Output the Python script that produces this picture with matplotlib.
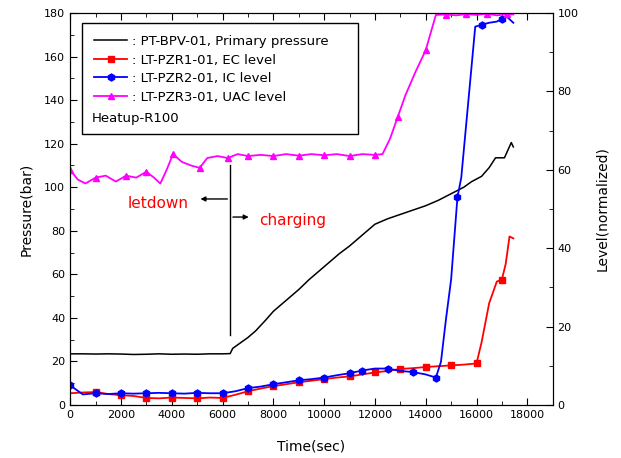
import numpy as np
import matplotlib
matplotlib.use('Agg')
import matplotlib.pyplot as plt
from matplotlib.lines import Line2D
from matplotlib.ticker import MultipleLocator

plt.rcParams['font.family'] = ['DejaVu Sans']

# primary pressure (bar)
t_p = [0, 500, 1000, 1500, 2000, 2500, 3000, 3500, 4000, 4500, 5000, 5500, 6000, 6300,
       6400, 6700, 7000, 7300, 7700, 8000, 8500, 9000, 9400, 9800, 10200, 10600, 11000,
       11500, 12000, 12500, 13000, 13500, 14000, 14500, 15000, 15500, 15800, 16200,
       16500, 16750, 17100, 17370, 17450]
p_pri = [23.5, 23.5, 23.4, 23.5, 23.4, 23.2, 23.3, 23.5, 23.3, 23.4, 23.3, 23.5, 23.5, 23.6,
         26, 28.5, 31, 34, 39, 43, 48, 53, 57.5, 61.5, 65.5, 69.5, 73,
         78, 83, 85.5, 87.5, 89.5, 91.5, 94, 97, 100, 102.5, 105,
         109, 113.5, 113.5, 120.5, 118.5]

# EC level (normalized)
t_ec = [0, 500, 1000, 1500, 2000, 2500, 3000, 3500, 4000, 4500, 5000, 5500, 6000, 6500,
        7000, 7500, 8000, 8500, 9000, 9500, 10000, 10500, 11000, 11500, 12000, 12500,
        13000, 13500, 14000, 14500, 15000, 15500, 16000, 16200, 16500, 16800, 17000,
        17150, 17300, 17450]
lv_ec = [3.0, 3.2, 3.3, 2.8, 2.5, 2.3, 1.8, 1.7, 1.9, 1.8, 1.7, 1.9, 1.8, 2.6,
         3.5, 4.2, 4.8, 5.3, 5.8, 6.2, 6.6, 7.0, 7.3, 7.8, 8.3, 8.7,
         9.2, 9.4, 9.7, 9.9, 10.1, 10.3, 10.6, 16, 26, 31.5, 32,
         36, 43, 42.5]
mk_ec = [1000, 2000, 3000, 4000, 5000, 6000, 7000, 8000, 9000, 10000, 11000, 12000,
         13000, 14000, 15000, 16000, 17000]

# IC level (normalized)
t_ic = [0, 500, 1000, 1500, 2000, 2500, 3000, 3500, 4000, 4500, 5000, 5500, 6000, 6500,
        7000, 7500, 8000, 8500, 9000, 9500, 10000, 10500, 11000, 11500, 12000, 12500,
        13000, 13500, 14000, 14400, 14600, 14800, 15000, 15250, 15400, 15700, 15950,
        16200, 16500, 16800, 17000, 17200, 17450]
lv_ic = [5.0, 2.7, 3.0, 2.8, 3.0, 2.9, 3.0, 3.1, 3.0, 2.9, 3.1, 3.0, 3.0, 3.5,
         4.3, 4.7, 5.3, 5.8, 6.3, 6.6, 7.0, 7.6, 8.1, 8.8, 9.3, 9.3,
         8.7, 8.4, 7.8, 7.0, 11, 22, 32, 53, 58, 79, 96.5,
         97, 97.5, 97.8, 98.5, 99, 97.5]
mk_ic = [0, 1000, 2000, 3000, 4000, 5000, 6000, 7000, 8000, 9000, 10000, 11000, 11500,
         12500, 13500, 14400, 15250, 16200, 17000]

# UAC level (normalized)
t_uac = [0, 300, 600, 1000, 1400, 1800, 2200, 2600, 3000, 3300, 3550, 3800, 4050, 4400,
         4800, 5100, 5400, 5800, 6200, 6600, 7000, 7500, 8000, 8500, 9000, 9500, 10000,
         10500, 11000, 11500, 12000, 12300, 12600, 12900, 13200, 13600, 14000, 14200,
         14400, 14800, 15200, 15600, 16000, 16400, 16800, 17200, 17450]
lv_uac = [60, 57.5, 56.5, 58, 58.5, 57, 58.5, 58, 59.5, 58, 56.5, 60, 64, 62,
          61, 60.5, 63, 63.5, 63, 64, 63.5, 63.8, 63.5, 64, 63.6, 64, 63.7,
          64, 63.5, 64, 63.8, 64, 68, 73.5, 79, 85, 90.5, 95,
          99.5, 99.6, 99.4, 99.7, 99.5, 99.8, 99.4, 99.7, 99.6]
mk_uac = [0, 1000, 2200, 3000, 4050, 5100, 6200, 7000, 8000, 9000, 10000, 11000, 12000,
          12900, 14000, 14800, 15600, 16400, 17200]

fig = plt.figure(figsize=(6.21, 4.58), dpi=100)
ax = fig.add_axes([0.113, 0.1157, 0.777, 0.856])
ax2 = ax.twinx()

ax.plot(t_p, p_pri, color='black', lw=1.1, zorder=3)


def marks(t, keep):
    return [i for i, v in enumerate(t) if v in keep]


ax2.plot(t_ec, lv_ec, color='#ff0000', lw=1.3, marker='s', ms=4.5,
         markevery=marks(t_ec, mk_ec))
ax2.plot(t_ic, lv_ic, color='#0000ff', lw=1.3, marker='h', ms=5,
         markevery=marks(t_ic, mk_ic))
ax2.plot(t_uac, lv_uac, color='#ff00ff', lw=1.3, marker='^', ms=5,
         markevery=marks(t_uac, mk_uac))

ax.set_xlim(0, 19000)
ax.set_ylim(0, 180)
ax2.set_ylim(0, 100)

ax.xaxis.set_major_locator(MultipleLocator(2000))
ax.xaxis.set_minor_locator(MultipleLocator(1000))
ax.yaxis.set_major_locator(MultipleLocator(20))
ax.yaxis.set_minor_locator(MultipleLocator(10))
ax2.yaxis.set_major_locator(MultipleLocator(20))
ax2.yaxis.set_minor_locator(MultipleLocator(10))

ax.tick_params(axis='both', which='both', direction='in', top=True, labelsize=8)
ax.tick_params(which='major', length=5)
ax.tick_params(which='minor', length=3)
ax2.tick_params(axis='y', which='both', direction='in', labelsize=8)
ax2.tick_params(which='major', length=5)
ax2.tick_params(which='minor', length=3)

ax.set_xlabel('Time(sec)', fontsize=10)
ax.xaxis.set_label_coords(0.5, -0.088)
ax.set_ylabel('Pressure(bar)', fontsize=10, labelpad=8)
ax2.set_ylabel('Level(normalized)', fontsize=10, labelpad=12)

# letdown / charging annotation
ax.plot([6300, 6300], [32, 110], color='black', lw=1)
arrow = dict(arrowstyle='-|>', color='black', lw=1, mutation_scale=7)
ax.annotate('', xy=(5020, 94.6), xytext=(6300, 94.6), arrowprops=arrow)
ax.annotate('', xy=(7140, 86.3), xytext=(6300, 86.3), arrowprops=arrow)
ax.text(3450, 92.7, 'letdown', color='#ff0000', fontsize=11, ha='center', va='center')
ax.text(7450, 84.5, 'charging', color='#ff0000', fontsize=11, ha='left', va='center')

handles = [
    Line2D([], [], color='black', lw=1.1),
    Line2D([], [], color='#ff0000', lw=1.3, marker='s', ms=4.5),
    Line2D([], [], color='#0000ff', lw=1.3, marker='h', ms=5),
    Line2D([], [], color='#ff00ff', lw=1.3, marker='^', ms=5),
    Line2D([], [], color='none'),
]
labels = [': PT-BPV-01, Primary pressure', ': LT-PZR1-01, EC level',
          ': LT-PZR2-01, IC level', ': LT-PZR3-01, UAC level', ' ']
leg = ax2.legend(handles, labels, loc='upper left',
                 bbox_to_anchor=(0.025, 0.684, 0.571, 0.29), mode='expand',
                 borderaxespad=0, fontsize=9.5, handlelength=2.5, handletextpad=0.4,
                 borderpad=0.9, labelspacing=0.42, fancybox=False,
                 edgecolor='black', framealpha=1)
leg.get_frame().set_linewidth(1)
ax2.text(0.0455, 0.732, 'Heatup-R100', transform=ax2.transAxes, fontsize=9.5,
         ha='left', va='center', zorder=10)

fig.savefig('out.png', dpi=100)
